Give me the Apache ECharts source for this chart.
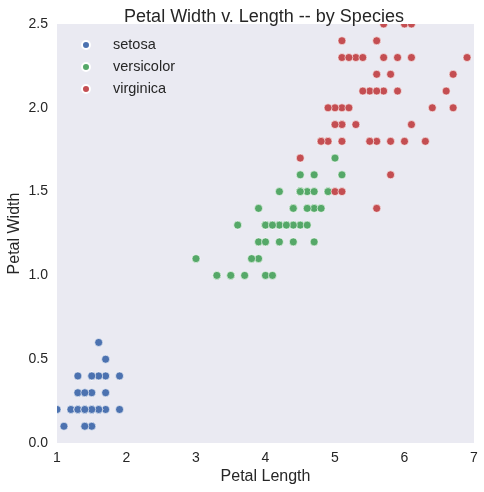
<!DOCTYPE html>
<html><head><meta charset="utf-8">
<script src="https://cdn.jsdelivr.net/npm/echarts@6/dist/echarts.min.js"></script>
<style>html,body{margin:0;padding:0;background:#fff}#c{width:484px;height:492px}</style>
</head><body><div id="c"></div>
<script>
const species = ['setosa', 'versicolor', 'virginica'];
const colors = ['#4C72B0', '#55A868', '#C44E52'];
const xTicks = [1, 2, 3, 4, 5, 6, 7];
const yTicks = ['0.0', '0.5', '1.0', '1.5', '2.0', '2.5'];

const setosaLength = [1.4,1.4,1.3,1.5,1.4,1.7,1.4,1.5,1.4,1.5,1.5,1.6,1.4,1.1,1.2,1.5,1.3,1.4,1.7,1.5,1.7,1.5,1.0,1.7,1.9,1.6,1.6,1.5,1.4,1.6,1.6,1.5,1.5,1.4,1.5,1.2,1.3,1.4,1.3,1.5,1.3,1.3,1.3,1.6,1.9,1.4,1.6,1.4,1.5,1.4];
const setosaWidth  = [0.2,0.2,0.2,0.2,0.2,0.4,0.3,0.2,0.2,0.1,0.2,0.2,0.1,0.1,0.2,0.4,0.4,0.3,0.3,0.3,0.2,0.4,0.2,0.5,0.2,0.2,0.4,0.2,0.2,0.2,0.2,0.4,0.1,0.2,0.2,0.2,0.2,0.1,0.2,0.2,0.3,0.3,0.2,0.6,0.4,0.3,0.2,0.2,0.2,0.2];
const versicolorLength = [4.7,4.5,4.9,4.0,4.6,4.5,4.7,3.3,4.6,3.9,3.5,4.2,4.0,4.7,3.6,4.4,4.5,4.1,4.5,3.9,4.8,4.0,4.9,4.7,4.3,4.4,4.8,5.0,4.5,3.5,3.8,3.7,3.9,5.1,4.5,4.5,4.7,4.4,4.1,4.0,4.4,4.6,4.0,3.3,4.2,4.2,4.2,4.3,3.0,4.1];
const versicolorWidth  = [1.4,1.5,1.5,1.3,1.5,1.3,1.6,1.0,1.3,1.4,1.0,1.5,1.0,1.4,1.3,1.4,1.5,1.0,1.5,1.1,1.8,1.3,1.5,1.2,1.3,1.4,1.4,1.7,1.5,1.0,1.1,1.0,1.2,1.6,1.5,1.6,1.5,1.3,1.3,1.3,1.2,1.4,1.2,1.0,1.3,1.2,1.3,1.3,1.1,1.3];
const virginicaLength = [6.0,5.1,5.9,5.6,5.8,6.6,4.5,6.3,5.8,6.1,5.1,5.3,5.5,5.0,5.1,5.3,5.5,6.7,6.9,5.0,5.7,4.9,6.7,4.9,5.7,6.0,4.8,4.9,5.6,5.8,6.1,6.4,5.6,5.1,5.6,6.1,5.6,5.5,4.8,5.4,5.6,5.1,5.1,5.9,5.7,5.2,5.0,5.2,5.4,5.1];
const virginicaWidth  = [2.5,1.9,2.1,1.8,2.2,2.1,1.7,1.8,1.8,2.5,2.0,1.9,2.1,2.0,2.4,2.3,1.8,2.2,2.3,1.5,2.3,2.0,2.0,1.8,2.1,1.8,1.8,1.8,2.1,1.6,1.9,2.0,2.2,1.5,1.4,2.3,2.4,1.8,1.8,2.1,2.4,2.3,1.9,2.3,2.5,2.3,1.9,2.0,2.3,1.8];

const lengths = [setosaLength, versicolorLength, virginicaLength];
const widths = [setosaWidth, versicolorWidth, virginicaWidth];

const txt = '#262626';
const font = 'Liberation Sans, Arial, sans-serif';

const chart = echarts.init(document.getElementById('c'), null, {renderer: 'canvas'});
chart.setOption({
  animation: false,
  backgroundColor: '#ffffff',
  textStyle: {fontFamily: font},
  title: {
    text: 'Petal Width v. Length -- by Species',
    left: 259, top: 3, textAlign: 'center', z: 20,
    textStyle: {fontSize: 18, fontWeight: 'normal', color: txt, fontFamily: font}
  },
  grid: {left: 57, right: 10, top: 24, bottom: 49, show: true, backgroundColor: '#EAEAF2', borderWidth: 0,
    containLabel: false, outerBoundsMode: 'none'},
  legend: {
    orient: 'vertical', left: 81, top: 37, padding: 0,
    itemWidth: 44, itemHeight: 8, itemGap: 6, icon: 'circle',
    textStyle: {fontSize: 14.5, color: txt, lineHeight: 16, fontFamily: font},
    data: species
  },
  graphic: {
    z: 15,
    elements: [
      {type: 'rect', z: 15, shape: {x: 0, y: 0, width: 484, height: 24}, style: {fill: '#fff'}, silent: true},
      {type: 'rect', z: 15, shape: {x: 0, y: 24, width: 57, height: 420}, style: {fill: '#fff'}, silent: true}
    ]
  },
  xAxis: {
    type: 'value', min: 1, max: 7, interval: 1, z: 20,
    name: 'Petal Length', nameLocation: 'middle', nameGap: 26, nameMoveOverlap: false,
    nameTextStyle: {fontSize: 16, color: txt, fontFamily: font},
    axisLine: {show: false}, axisTick: {show: false}, splitLine: {show: false},
    axisLabel: {fontSize: 14, color: txt, margin: 8, fontFamily: font,
      formatter: v => String(xTicks[Math.round(v - xTicks[0])])}
  },
  yAxis: {
    type: 'value', min: 0, max: 2.5, interval: 0.5, z: 20,
    name: 'Petal Width', nameLocation: 'middle', nameGap: 34, nameMoveOverlap: false,
    nameTextStyle: {fontSize: 16, color: txt, fontFamily: font},
    axisLine: {show: false}, axisTick: {show: false}, splitLine: {show: false},
    axisLabel: {fontSize: 14, color: txt, margin: 9, fontFamily: font,
      formatter: v => yTicks[Math.round(v / 0.5)]}
  },
  series: species.map((s, i) => ({
    name: s, type: 'scatter', symbolSize: 8, clip: false, z: 2,
    itemStyle: {color: colors[i], borderColor: '#fff', borderWidth: 0.6, opacity: 1},
    data: lengths[i].map((x, j) => [x, widths[i][j]])
  }))
});
</script></body></html>
